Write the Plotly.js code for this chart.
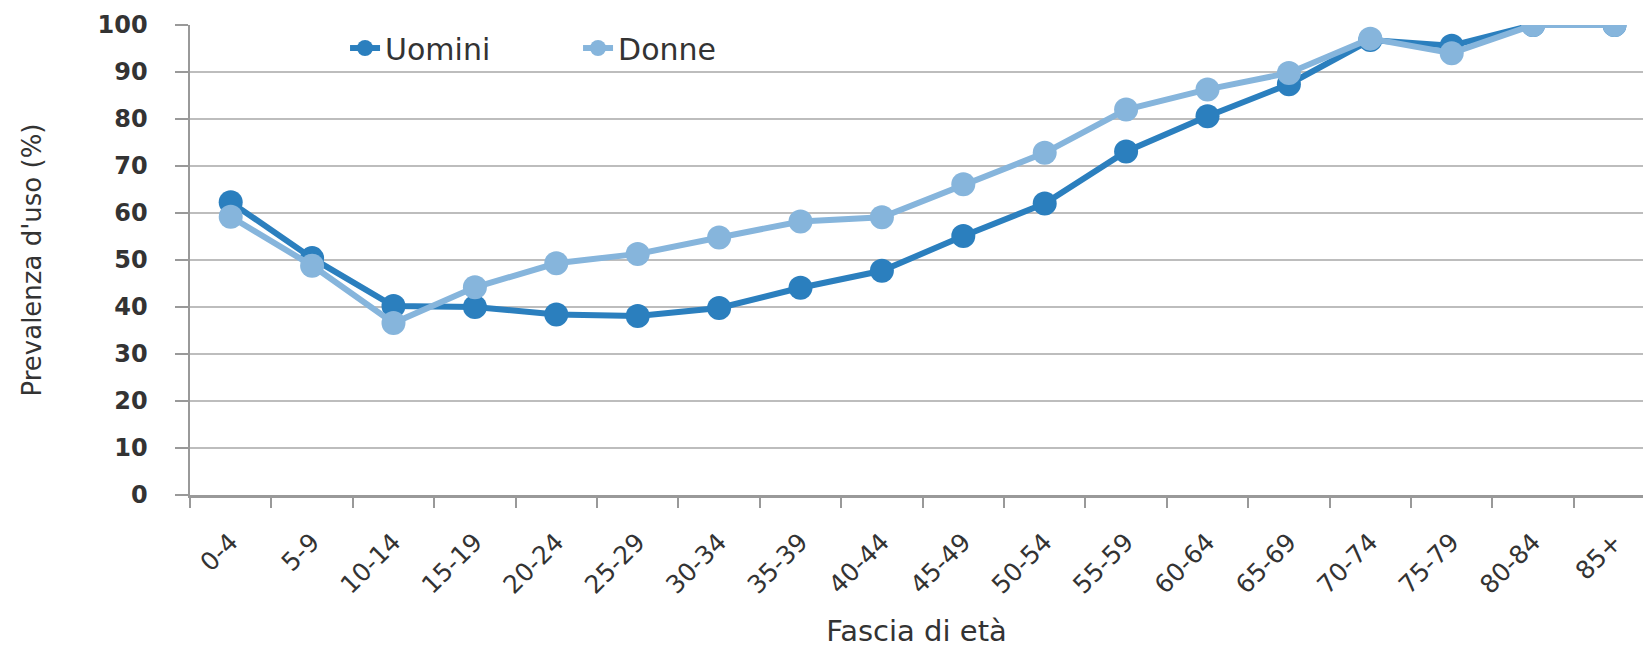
<!DOCTYPE html>
<html>
<head>
<meta charset="utf-8">
<script src="https://cdn.plot.ly/plotly-3.0.1.min.js"></script>
<style>html,body{margin:0;padding:0;background:#fff;}#chart{width:1643px;height:648px;}</style>
</head>
<body>
<div id="chart"></div>
<script>
const categories = ["0-4","5-9","10-14","15-19","20-24","25-29","30-34","35-39","40-44","45-49","50-54","55-59","60-64","65-69","70-74","75-79","80-84","85+"];
const uomini = [62.3, 50.4, 40.2, 40.0, 38.4, 38.1, 39.8, 44.1, 47.7, 55.1, 62.0, 73.1, 80.6, 87.4, 96.8, 95.6, 100, 100];
const donne  = [59.2, 48.8, 36.6, 44.2, 49.3, 51.3, 54.8, 58.2, 59.1, 66.1, 72.8, 82.0, 86.3, 89.8, 97.1, 94.0, 100, 100];
const yTicks = [0,10,20,30,40,50,60,70,80,90,100];

const font = "DejaVu Sans, sans-serif";
const traces = [
  {x: categories, y: uomini, name: "Uomini", type: "scatter", mode: "lines+markers",
   line: {color: "#2b7fbe", width: 6}, marker: {color: "#2b7fbe", size: 24}},
  {x: categories, y: donne, name: "Donne", type: "scatter", mode: "lines+markers",
   line: {color: "#86b5dc", width: 6}, marker: {color: "#86b5dc", size: 24}}
];
const layout = {
  width: 1643, height: 648,
  margin: {l: 190, r: 0, t: 25, b: 153},
  paper_bgcolor: "#fff", plot_bgcolor: "#fff",
  font: {family: font, color: "#333", size: 20},
  showlegend: true,
  legend: {orientation: "h", x: 0.1067, y: 0.951, xanchor: "left", yanchor: "middle",
           font: {size: 30, color: "#333"}, bgcolor: "rgba(0,0,0,0)", entrywidth: 188},
  xaxis: {type: "category", range: [-0.5, 17.35], tickson: "boundaries",
          ticks: "outside", ticklen: 10, tickcolor: "#999", tickwidth: 2,
          showline: true, linecolor: "#999", linewidth: 2.5,
          showgrid: false, tickangle: -45, ticklabelstandoff: 20,
          tickfont: {size: 25, color: "#333"},
          title: {text: "Fascia di età", font: {size: 29, color: "#333"}, standoff: 24}},
  yaxis: {range: [0, 100], tickvals: yTicks, ticks: "outside", ticklen: 13, tickcolor: "#999", tickwidth: 2,
          showline: true, linecolor: "#999", linewidth: 2.5,
          gridcolor: "#bdbdbd", gridwidth: 2.5, zeroline: false, ticklabelstandoff: 22,
          tickfont: {size: 24, color: "#333", weight: "bold"},
          title: {text: "Prevalenza d'uso (%)", font: {size: 26, color: "#333"}, standoff: 49}}
};
Plotly.newPlot("chart", traces, layout, {displayModeBar: false, staticPlot: true});
</script>
</body>
</html>
